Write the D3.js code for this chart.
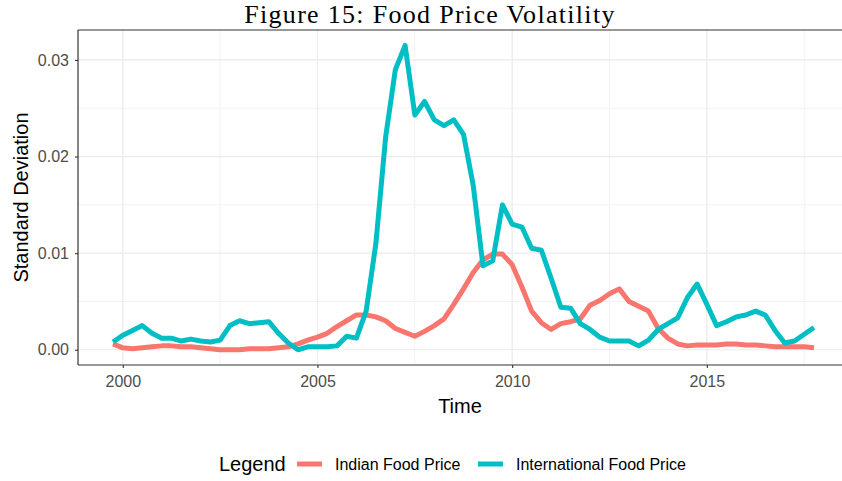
<!DOCTYPE html>
<html>
<head>
<meta charset="utf-8">
<script src="https://cdn.jsdelivr.net/npm/d3@7"></script>
<style>
  body { margin: 0; background: #fff; overflow: hidden; }
  svg { display: block; }
</style>
</head>
<body>
<div id="chart"></div>
<script>
(function () {
	// data (quarterly, 1999 Q4 to 2017 Q4)
	var startYear = 1999.75;
	var step = 0.25;
	var indianPrice = [
		0.0006, 0.0002, 0.0001, 0.0002, 0.0003, 0.0004, 0.0004, 0.0003, 0.0003, 0.0002,
		0.0001, 0.0000, 0.0000, 0.0000, 0.0001, 0.0001, 0.0001, 0.0002, 0.0003, 0.0006,
		0.0010, 0.0013, 0.0017, 0.0024, 0.0030, 0.0036, 0.0036, 0.0034, 0.0030, 0.0022,
		0.0018, 0.0014, 0.0019, 0.0025, 0.0032, 0.0047, 0.0063, 0.0080, 0.0093, 0.0099,
		0.0099, 0.0088, 0.0065, 0.0040, 0.0028, 0.0021, 0.0027, 0.0029, 0.0032, 0.0046,
		0.0051, 0.0058, 0.0063, 0.0050, 0.0045, 0.0040, 0.0022, 0.0012, 0.0006, 0.0004,
		0.0005, 0.0005, 0.0005, 0.0006, 0.0006, 0.0005, 0.0005, 0.0004, 0.0003, 0.0003,
		0.0003, 0.0003, 0.0002
	];
	var internationalPrice = [
		0.0008, 0.0015, 0.0020, 0.0025, 0.0017, 0.0012, 0.0012, 0.0009, 0.0011, 0.0009,
		0.0008, 0.0010, 0.0025, 0.0030, 0.0027, 0.0028, 0.0029, 0.0017, 0.0007, 0.0000,
		0.0003, 0.0003, 0.0003, 0.0004, 0.0014, 0.0012, 0.0040, 0.0110, 0.0220, 0.0290,
		0.0315, 0.0243, 0.0257, 0.0238, 0.0232, 0.0238, 0.0223, 0.0170, 0.0087, 0.0092,
		0.0150, 0.0130, 0.0127, 0.0105, 0.0103, 0.0074, 0.0044, 0.0043, 0.0027, 0.0021,
		0.0013, 0.0009, 0.0009, 0.0009, 0.0004, 0.0010, 0.0021, 0.0027, 0.0033, 0.0054,
		0.0068, 0.0047, 0.0025, 0.0029, 0.0034, 0.0036, 0.0040, 0.0036, 0.0020, 0.0007,
		0.0009, 0.0016, 0.0023
	];
	var seriesNames = ['Indian Food Price', 'International Food Price'];
	var xTicks = [2000, 2005, 2010, 2015];
	var xMinor = [2002.5, 2007.5, 2012.5, 2017.5];
	var yTicks = [0, 0.01, 0.02, 0.03];
	var yMinor = [0.005, 0.015, 0.025];

	var width = 842;
	var height = 481;
	var colors = {indian: '#F8766D', intl: '#00BFC4'};
	var panel = {left: 78, top: 30, right: 849, bottom: 365};
	var sans = 'Liberation Sans, Arial, sans-serif';

	var series = [
		{name: seriesNames[0], color: colors.indian, values: indianPrice},
		{name: seriesNames[1], color: colors.intl, values: internationalPrice}
	];

	var x = d3.scaleLinear().domain([1998.85, 2018.65]).range([panel.left, panel.right]);
	var y = d3.scaleLinear().domain([-0.00158, 0.0331]).range([panel.bottom, panel.top]);

	var svg = d3.select('#chart').append('svg')
		.attr('width', width).attr('height', height);

	// gridlines
	var grid = svg.append('g');
	grid.selectAll('.minorX').data(xMinor).enter().append('line')
		.attr('x1', d => x(d)).attr('x2', d => x(d))
		.attr('y1', panel.top).attr('y2', panel.bottom)
		.attr('stroke', '#F2F2F2').attr('stroke-width', 1);
	grid.selectAll('.minorY').data(yMinor).enter().append('line')
		.attr('x1', panel.left).attr('x2', panel.right)
		.attr('y1', d => y(d)).attr('y2', d => y(d))
		.attr('stroke', '#F2F2F2').attr('stroke-width', 1);
	grid.selectAll('.majorX').data(xTicks).enter().append('line')
		.attr('x1', d => x(d)).attr('x2', d => x(d))
		.attr('y1', panel.top).attr('y2', panel.bottom)
		.attr('stroke', '#EBEBEB').attr('stroke-width', 1.2);
	grid.selectAll('.majorY').data(yTicks).enter().append('line')
		.attr('x1', panel.left).attr('x2', panel.right)
		.attr('y1', d => y(d)).attr('y2', d => y(d))
		.attr('stroke', '#EBEBEB').attr('stroke-width', 1.2);

	// lines
	var line = d3.line()
		.x((d, i) => x(startYear + i * step))
		.y(d => y(d));

	svg.selectAll('.series').data(series).enter().append('path')
		.attr('d', d => line(d.values))
		.attr('fill', 'none')
		.attr('stroke', d => d.color)
		.attr('stroke-width', 5)
		.attr('stroke-linejoin', 'round');

	// panel border (right side falls outside the picture)
	var border = [
		[panel.left, panel.top, panel.right, panel.top],
		[panel.left, panel.bottom, panel.right, panel.bottom],
		[panel.left, panel.top, panel.left, panel.bottom]
	];
	svg.selectAll('.border').data(border).enter().append('line')
		.attr('x1', d => d[0]).attr('y1', d => d[1])
		.attr('x2', d => d[2]).attr('y2', d => d[3])
		.attr('stroke', '#333').attr('stroke-width', 1.2);

	// axes
	var xAxis = svg.append('g')
		.attr('transform', 'translate(0,' + panel.bottom + ')')
		.call(d3.axisBottom(x).tickValues(xTicks).tickFormat(d3.format('d')).tickSize(3).tickPadding(8));
	var yAxis = svg.append('g')
		.attr('transform', 'translate(' + panel.left + ',0)')
		.call(d3.axisLeft(y).tickValues(yTicks).tickFormat(d3.format('.2f')).tickSize(3).tickPadding(6));
	[xAxis, yAxis].forEach(function (ax) {
		ax.select('.domain').remove();
		ax.selectAll('line').attr('stroke', '#333').attr('stroke-width', 1.1);
		ax.selectAll('text')
			.attr('fill', '#4D4D4D')
			.style('font-family', sans)
			.style('font-size', '16px');
	});

	// title and axis titles
	svg.append('text')
		.attr('x', 430).attr('y', 23)
		.attr('text-anchor', 'middle')
		.style('font-family', 'Liberation Serif, DejaVu Serif, serif')
		.style('font-size', '26px')
		.style('letter-spacing', '1.3px')
		.text('Figure 15: Food Price Volatility');

	svg.append('text')
		.attr('x', 460).attr('y', 413)
		.attr('text-anchor', 'middle')
		.style('font-family', sans)
		.style('font-size', '20px')
		.text('Time');

	svg.append('text')
		.attr('transform', 'translate(28,' + (panel.top + panel.bottom) / 2 + ')rotate(-90)')
		.attr('text-anchor', 'middle')
		.style('font-family', sans)
		.style('font-size', '20px')
		.text('Standard Deviation');

	// legend
	var legend = svg.append('g').attr('transform', 'translate(219,464)');
	legend.append('text')
		.attr('x', 0).attr('y', 7)
		.style('font-family', sans)
		.style('font-size', '20px')
		.text('Legend');
	var keyX = [78, 259];
	var items = legend.selectAll('.item').data(series).enter().append('g')
		.attr('transform', (d, i) => 'translate(' + keyX[i] + ',0)');
	items.append('line')
		.attr('x1', 0).attr('x2', 25).attr('y1', 0).attr('y2', 0)
		.attr('stroke', d => d.color).attr('stroke-width', 5);
	items.append('text')
		.attr('x', 38).attr('y', 6)
		.style('font-family', sans)
		.style('font-size', '16px')
		.text(d => d.name);
})();
</script>
</body>
</html>
